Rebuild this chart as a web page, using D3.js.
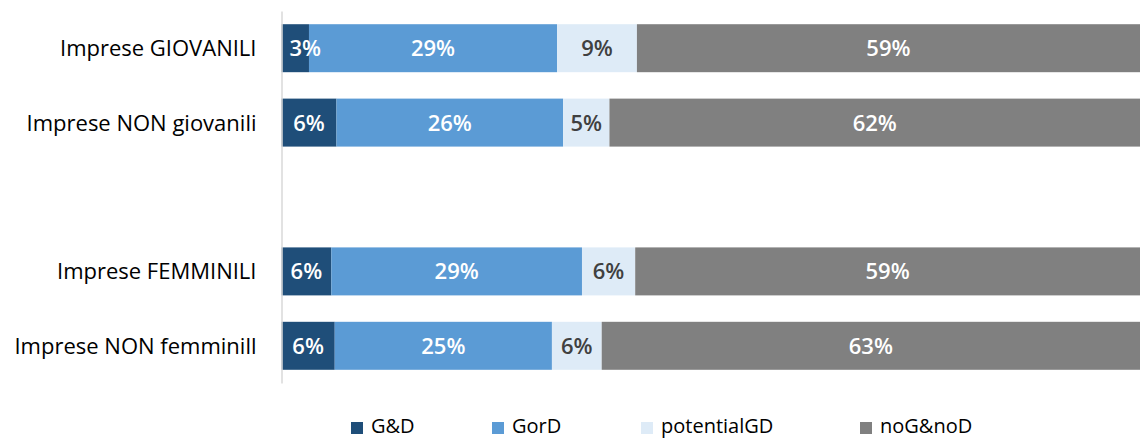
<!DOCTYPE html>
<html>
<head>
<meta charset="utf-8">
<script src="https://cdn.jsdelivr.net/npm/d3@7"></script>
<style>
  html, body { margin: 0; padding: 0; background: #fff; }
  svg { display: block; font-family: "Open Sans", Lato, sans-serif; }
</style>
</head>
<body>
<svg id="chart"></svg>
<script>
"use strict";

// categories (the empty one is the gap row between the two groups)
var categories = [
  "Imprese GIOVANILI",
  "Imprese NON giovanili",
  "",
  "Imprese FEMMINILI",
  "Imprese NON femminill"
];

var seriesNames = ["G&D", "GorD", "potentialGD", "noG&noD"];

// shares in percent
var gd        = [3.2, 6.4, null, 5.8, 6.2];
var gord      = [28.9, 26.4, null, 29.2, 25.3];
var potential = [9.3, 5.4, null, 6.2, 5.8];
var noGnoD    = [58.6, 61.8, null, 58.8, 62.7];

var seriesColors = ["#1f4e79", "#5b9bd5", "#deebf7", "#808080"];
var labelColors = ["#ffffff", "#ffffff", "#404040", "#ffffff"];

var width = 1140,
  height = 438;
var margin = { left: 281.5, right: 0 };
var plotTop = 11,
  plotBottom = 383;

// legend square positions (layout only)
var legendX = [351, 492, 641, 860];

var svg = d3.select("#chart").attr("width", width).attr("height", height);

var rows = categories.map(function (c, i) {
  return {
    category: c,
    "G&D": gd[i],
    GorD: gord[i],
    potentialGD: potential[i],
    "noG&noD": noGnoD[i]
  };
});

var x = d3.scaleLinear().domain([0, 100]).range([margin.left, width - margin.right]);
var y = d3
  .scaleBand()
  .domain(d3.range(categories.length))
  .range([plotTop, plotBottom])
  .paddingInner(0.355)
  .paddingOuter(0.1775);

var color = d3.scaleOrdinal().domain(seriesNames).range(seriesColors);
var labelColor = d3.scaleOrdinal().domain(seriesNames).range(labelColors);

var stacked = d3
  .stack()
  .keys(seriesNames)
  .value(function (d, k) {
    return d[k] || 0;
  })(rows);

function hasData(p) {
  return p.data.category !== "";
}
function rowIndex(p) {
  return categories.indexOf(p.data.category);
}

// bars
svg
  .selectAll(".layer")
  .data(stacked)
  .enter()
  .append("g")
  .attr("class", "layer")
  .attr("fill", function (d) {
    return color(d.key);
  })
  .selectAll("rect")
  .data(function (d) {
    return d.filter(hasData);
  })
  .enter()
  .append("rect")
  .attr("x", function (d) {
    return x(d[0]);
  })
  .attr("y", function (d) {
    return y(rowIndex(d));
  })
  .attr("width", function (d) {
    return x(d[1]) - x(d[0]);
  })
  .attr("height", y.bandwidth());

// data labels
stacked.forEach(function (s) {
  svg
    .append("g")
    .selectAll("text")
    .data(s.filter(hasData))
    .enter()
    .append("text")
    .attr("x", function (d) {
      return (x(d[0]) + x(d[1])) / 2;
    })
    .attr("y", function (d) {
      return y(rowIndex(d)) + y.bandwidth() / 2;
    })
    .attr("dy", "0.36em")
    .attr("text-anchor", "middle")
    .attr("fill", labelColor(s.key))
    .style("font-size", "22px")
    .style("font-weight", "600")
    .text(function (d) {
      return Math.round(d[1] - d[0]) + "%";
    })
    .each(function () {
      // keep labels off the axis line, like the spreadsheet does
      var w = this.getComputedTextLength();
      var cx = +this.getAttribute("x");
      if (cx - w / 2 < margin.left + 8) {
        this.setAttribute("x", margin.left + 8 + w / 2);
      }
    });
});

// category axis
var axisG = svg
  .append("g")
  .attr("transform", "translate(" + margin.left + ",0)")
  .call(
    d3
      .axisLeft(y)
      .tickSize(0)
      .tickPadding(25)
      .tickFormat(function (i) {
        return categories[i];
      })
  );
axisG.select(".domain").attr("stroke", "#d9d9d9").attr("stroke-width", 1.5);
axisG
  .selectAll(".tick text")
  .attr("fill", "#000")
  .attr("dy", "0.36em")
  .style("font-size", "22px")
  .style("font-family", '"Open Sans", sans-serif');

// legend
var legend = svg
  .append("g")
  .selectAll("g")
  .data(seriesNames)
  .enter()
  .append("g")
  .attr("transform", function (d, i) {
    return "translate(" + legendX[i] + ",0)";
  });

legend
  .append("rect")
  .attr("x", 0)
  .attr("y", 422)
  .attr("width", 12)
  .attr("height", 12)
  .attr("fill", function (d) {
    return color(d);
  });

legend
  .append("text")
  .attr("x", 20)
  .attr("y", 433)
  .attr("fill", "#000")
  .style("font-size", "20px")
  .text(function (d) {
    return d;
  });
</script>
</body>
</html>
